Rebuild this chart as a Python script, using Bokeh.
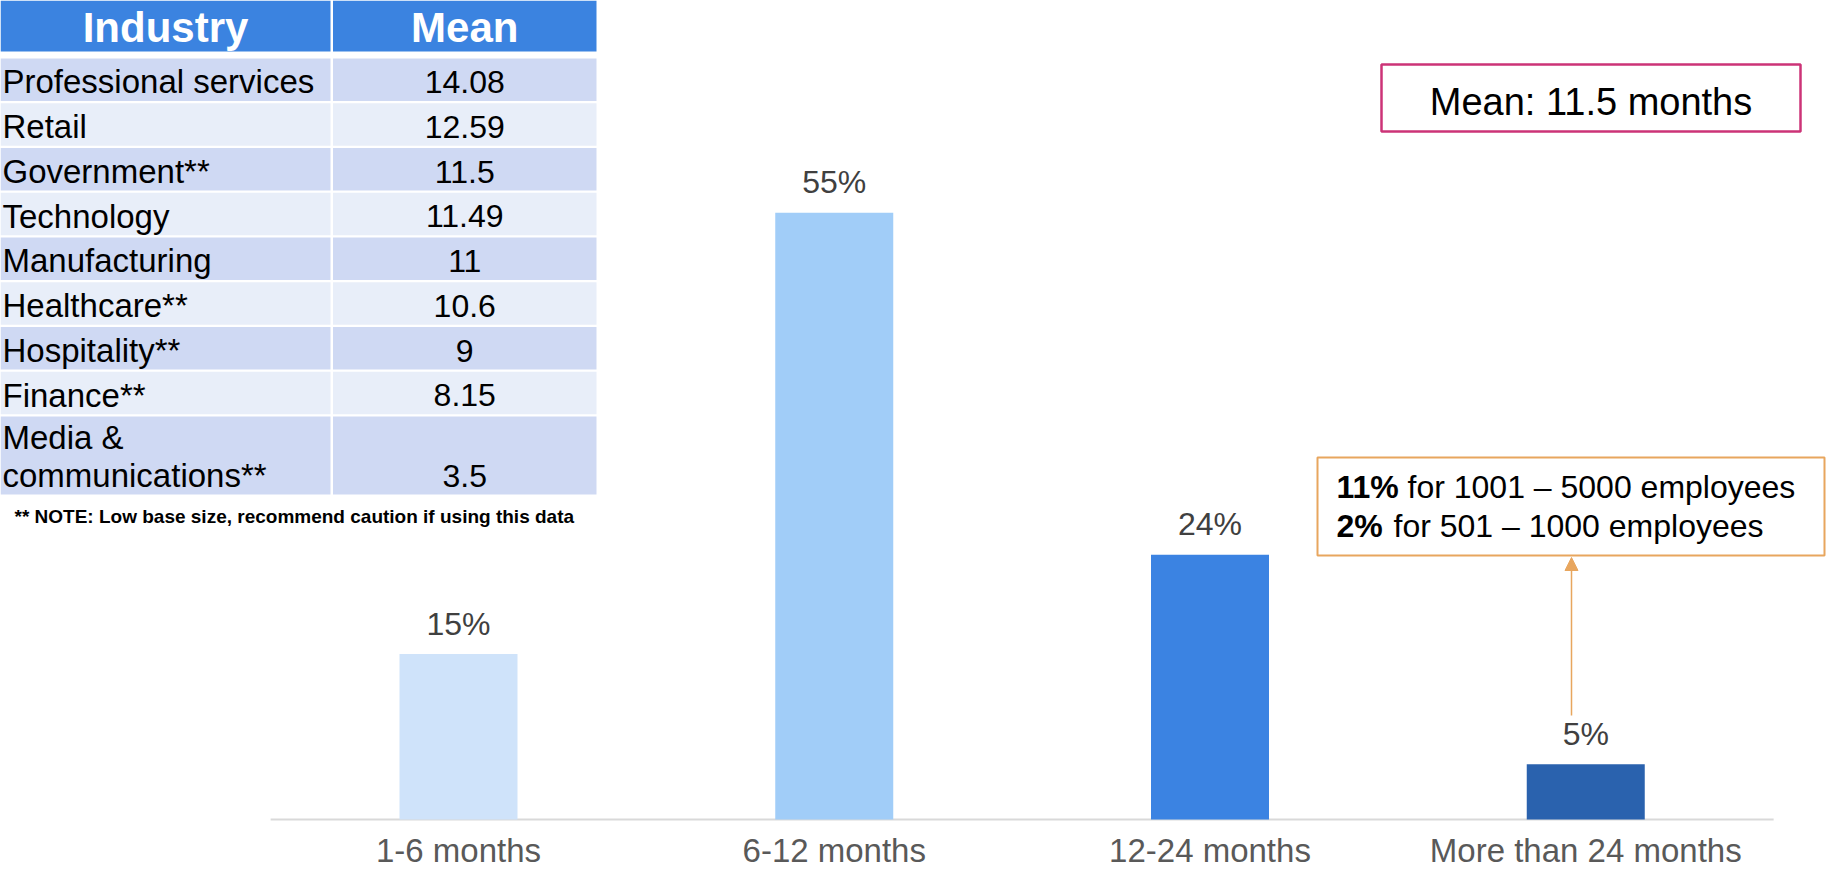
from bokeh.plotting import figure
from bokeh.models import Range1d, Arrow, NormalHead, ColumnDataSource
from bokeh.core.properties import value
from bokeh.embed import file_html
from bokeh.resources import INLINE

# ---------------- data ----------------
categories = ["1-6 months", "6-12 months", "12-24 months", "More than 24 months"]
shares = [15, 55, 24, 5]
bar_colors = ["#CFE3FA", "#A1CDF8", "#3B83E2", "#2A62AE"]

table_headers = ["Industry", "Mean"]
industries = ["Professional services", "Retail", "Government**", "Technology",
              "Manufacturing", "Healthcare**", "Hospitality**", "Finance**",
              "Media &\ncommunications**"]
industry_means = [14.08, 12.59, 11.5, 11.49, 11, 10.6, 9, 8.15, 3.5]
note_text = "** NOTE: Low base size, recommend caution if using this data"

overall_mean = 11.5
size_shares = ["11%", "2%"]
size_groups = ["for 1001 \u2013 5000 employees", "for 501 \u2013 1000 employees"]

# ---------------- layout constants ----------------
W, H = 1828, 870
BASELINE = 819
PX_PER_PCT = 11.03
SLOT = 375.75
FIRST_CENTER = 458
FONT = value("Liberation Sans")
SHIFT = 0.355  # baseline correction (em) for the svg text placement


def tb(baseline, fs):
    return baseline - SHIFT * fs


p = figure(width=W, height=H, output_backend="svg", toolbar_location=None,
           x_range=Range1d(-FIRST_CENTER / SLOT, (W - FIRST_CENTER) / SLOT),
           y_range=Range1d(-(H - BASELINE) / PX_PER_PCT, BASELINE / PX_PER_PCT),
           x_axis_location=None, y_axis_location=None, min_border=0,
           outline_line_color=None, background_fill_color="white",
           border_fill_color="white")
p.grid.visible = False
p.extra_x_ranges = {"px": Range1d(0, W)}
p.extra_y_ranges = {"px": Range1d(H, 0)}
PX = dict(x_range_name="px", y_range_name="px")

# ---------------- bars ----------------
idx = list(range(len(categories)))
LABEL_FS = 32
src = ColumnDataSource(dict(x=idx, top=shares, color=bar_colors,
                            label=[f"{s}%" for s in shares],
                            ly=[s + (19 + SHIFT * LABEL_FS) / PX_PER_PCT for s in shares]))
p.segment(x0=-0.5, y0=0, x1=len(categories) - 0.5, y1=0, line_color="#D9D9D9", line_width=2)
p.vbar(x="x", top="top", bottom=0, width=118 / SLOT, fill_color="color",
       line_color=None, source=src)
p.text(x="x", y="ly", text="label", source=src, text_align="center",
       text_baseline="alphabetic", text_font=FONT, text_font_size=f"{LABEL_FS}px",
       text_color="#404040")

# category labels (x through the category scale)
CAT_FS = 33
p.text(x=idx, y=[tb(862, CAT_FS)] * len(categories), text=categories,
       y_range_name="px", text_align="center", text_baseline="alphabetic",
       text_font=FONT, text_font_size=f"{CAT_FS}px", text_color="#595959")

# ---------------- table ----------------
COL_SPLIT = 330
COL2_LEFT = 332.5
TABLE_RIGHT = 596
COL2_MID = (COL2_LEFT + TABLE_RIGHT) / 2
HEAD_FS, NAME_FS, VAL_FS = 42, 33, 32

p.quad(left=[0, COL2_LEFT], right=[COL_SPLIT, TABLE_RIGHT], top=[0, 0], bottom=[51, 51],
       fill_color="#3B83E0", line_color=None, **PX)
p.text(x=[COL_SPLIT / 2, COL2_MID], y=[tb(42, HEAD_FS)] * 2, text=table_headers,
       text_align="center", text_baseline="alphabetic", text_font=FONT,
       text_font_style="bold", text_font_size=f"{HEAD_FS}px", text_color="white", **PX)

top = 58
for i, (name, m) in enumerate(zip(industries, industry_means)):
    lines = name.split("\n")
    h = 42.5 + (len(lines) - 1) * 35.5
    bottom = top + h
    color = "#CFD9F3" if i % 2 == 0 else "#E8EEF9"
    p.quad(left=[0, COL2_LEFT], right=[COL_SPLIT, TABLE_RIGHT], top=[top, top],
           bottom=[bottom, bottom], fill_color=color, line_color=None, **PX)
    last_base = bottom - 7.5
    bases = [last_base - 38 * (len(lines) - 1 - k) for k in range(len(lines))]
    p.text(x=[2] * len(lines), y=[tb(b, NAME_FS) for b in bases], text=lines,
           text_align="left", text_baseline="alphabetic", text_font=FONT,
           text_font_size=f"{NAME_FS}px", text_color="black", **PX)
    p.text(x=[COL2_MID], y=[tb(last_base, VAL_FS)], text=[f"{m:g}"],
           text_align="center", text_baseline="alphabetic", text_font=FONT,
           text_font_size=f"{VAL_FS}px", text_color="black", **PX)
    top = bottom + 2.25

p.text(x=[14], y=[tb(523, 19)], text=[note_text], text_align="left",
       text_baseline="alphabetic", text_font=FONT, text_font_style="bold",
       text_font_size="19px", text_color="black", **PX)

# ---------------- mean box ----------------
p.quad(left=[1381], right=[1800], top=[64], bottom=[131], fill_color=None,
       line_color="#CC3377", line_width=2.5, **PX)
p.text(x=[1590.5], y=[tb(115, 38)], text=[f"Mean: {overall_mean:g} months"],
       text_align="center", text_baseline="alphabetic", text_font=FONT,
       text_font_size="38px", text_color="black", **PX)

# ---------------- size breakdown box ----------------
ORANGE = "#E8A65E"
ANN_FS = 32
p.quad(left=[1317], right=[1824], top=[457], bottom=[555], fill_color=None,
       line_color=ORANGE, line_width=2, **PX)
p.text(x=[1336, 1336], y=[tb(498, ANN_FS), tb(537, ANN_FS)], text=size_shares,
       text_align="left", text_baseline="alphabetic", text_font=FONT,
       text_font_style="bold", text_font_size=f"{ANN_FS}px", text_color="black", **PX)
p.text(x=[1407, 1393], y=[tb(498, ANN_FS), tb(537, ANN_FS)], text=size_groups,
       text_align="left", text_baseline="alphabetic", text_font=FONT,
       text_font_size=f"{ANN_FS}px", text_color="black", **PX)
p.add_layout(Arrow(end=NormalHead(size=13, fill_color=ORANGE, line_color=ORANGE),
                   x_start=1571, y_start=715, x_end=1571, y_end=557,
                   line_color=ORANGE, line_width=1.5, **PX))

open("out.html", "w").write(file_html(p, INLINE))
